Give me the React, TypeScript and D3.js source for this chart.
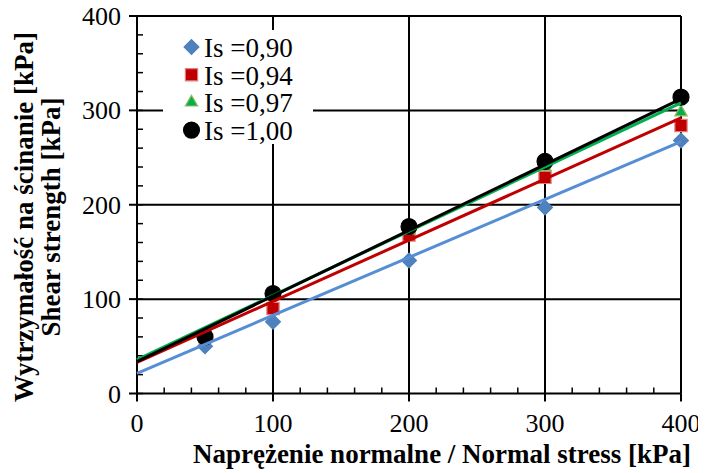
import React, { useEffect, useRef } from "react";
import * as d3 from "d3";

// normal stress values [kPa]
const stress = [50, 100, 200, 300, 400];

const seriesNames = ["Is =0,90", "Is =0,94", "Is =0,97", "Is =1,00"];

// shear strength [kPa]
const is090 = [50, 76, 141, 197, 268];
const is094 = [60, 90, 168, 229, 284];
const is097 = [62, 104, 173, 240, 298];
const is100 = [60, 106, 177, 246, 314];

// linear trend lines: intercept and slope
const fitIntercept = [21.4, 33, 36, 33.7];
const fitSlope = [0.614, 0.6475, 0.68, 0.696];

const xTicks = [0, 100, 200, 300, 400];
const yTicks = [0, 100, 200, 300, 400];

const App = () => {
	const svgRef = useRef<SVGSVGElement>(null);

	useEffect(() => {
		const svg = d3.select(svgRef.current);
		svg.selectAll("*").remove();

		const width = 706;
		const height = 473;
		const left = 137;
		const right = 681;
		const top = 16;
		const bottom = 393.5;
		const font = "'Liberation Serif', 'Times New Roman', serif";

		svg.attr("width", width).attr("height", height);

		const x = d3.scaleLinear().domain([0, 400]).range([left, right]);
		const y = d3.scaleLinear().domain([0, 400]).range([bottom, top]);

		const allValues = [is090, is094, is097, is100];
		const styles = [
			{ shape: d3.symbolDiamond2, fill: "#4f81bd", stroke: "#4f81bd", line: "#558ed5", size: 140 },
			{ shape: d3.symbolSquare2, fill: "#c00000", stroke: "#e0807a", line: "#c00000", size: 190 },
			{ shape: d3.symbolTriangle2, fill: "#00b050", stroke: "#9bbb59", line: "#00b050", size: 110 },
			{ shape: d3.symbolCircle, fill: "#000000", stroke: "#000000", line: "#000000", size: 200 },
		];

		// grid
		const grid = svg.append("g");
		yTicks.forEach((t) => {
			grid.append("line")
				.attr("x1", left).attr("x2", right)
				.attr("y1", y(t)).attr("y2", y(t))
				.attr("stroke", "#000").attr("stroke-width", 2);
		});
		xTicks.forEach((t) => {
			grid.append("line")
				.attr("x1", x(t)).attr("x2", x(t))
				.attr("y1", top).attr("y2", bottom)
				.attr("stroke", "#000").attr("stroke-width", 2);
		});

		// minor ticks (inside) and major ticks (outside)
		const minor = d3.range(0, 401, 20);
		minor.forEach((t) => {
			grid.append("line")
				.attr("x1", x(t)).attr("x2", x(t))
				.attr("y1", bottom).attr("y2", bottom - 6)
				.attr("stroke", "#000").attr("stroke-width", 1.5);
			grid.append("line")
				.attr("x1", left).attr("x2", left + 6)
				.attr("y1", y(t)).attr("y2", y(t))
				.attr("stroke", "#000").attr("stroke-width", 1.5);
		});
		xTicks.forEach((t) => {
			grid.append("line")
				.attr("x1", x(t)).attr("x2", x(t))
				.attr("y1", bottom).attr("y2", bottom + 8)
				.attr("stroke", "#000").attr("stroke-width", 2);
		});
		yTicks.forEach((t) => {
			grid.append("line")
				.attr("x1", left - 8).attr("x2", left)
				.attr("y1", y(t)).attr("y2", y(t))
				.attr("stroke", "#000").attr("stroke-width", 2);
		});

		// legend background
		svg.append("rect")
			.attr("x", 163).attr("y", 30)
			.attr("width", 150).attr("height", 114)
			.attr("fill", "#fff");

		// markers
		allValues.forEach((vals, i) => {
			const st = styles[i];
			svg.append("g")
				.selectAll("path")
				.data(vals)
				.enter()
				.append("path")
				.attr("transform", (d, j) => `translate(${x(stress[j])},${y(d)})`)
				.attr("d", d3.symbol().type(st.shape).size(st.size)())
				.attr("fill", st.fill)
				.attr("stroke", st.stroke)
				.attr("stroke-width", 1.2);
		});

		// trend lines
		fitIntercept.forEach((b, i) => {
			const xs = [0, 400];
			svg.append("path")
				.attr(
					"d",
					d3
						.line<number>()
						.x((d) => x(d))
						.y((d) => y(b + fitSlope[i] * d))(xs)
				)
				.attr("fill", "none")
				.attr("stroke", styles[i].line)
				.attr("stroke-width", 3);
		});

		// legend
		const legend = svg.append("g");
		seriesNames.forEach((name, i) => {
			const ly = 47 + i * 27.7;
			const st = styles[i];
			legend.append("path")
				.attr("transform", `translate(191.5,${ly})`)
				.attr("d", d3.symbol().type(st.shape).size(st.size)())
				.attr("fill", st.fill)
				.attr("stroke", st.stroke)
				.attr("stroke-width", 1.2);
			legend.append("text")
				.attr("x", 204)
				.attr("y", ly + 10)
				.style("font-family", font)
				.style("font-size", "27px")
				.text(name);
		});

		// tick labels
		svg.append("g")
			.selectAll("text")
			.data(xTicks)
			.enter()
			.append("text")
			.attr("x", (d) => x(d))
			.attr("y", 432)
			.attr("text-anchor", "middle")
			.style("font-family", font)
			.style("font-size", "26px")
			.text((d) => d);

		svg.append("g")
			.selectAll("text")
			.data(yTicks)
			.enter()
			.append("text")
			.attr("x", 121)
			.attr("y", (d) => y(d) + 9)
			.attr("text-anchor", "end")
			.style("font-family", font)
			.style("font-size", "26px")
			.text((d) => d);

		// axis titles
		svg.append("text")
			.attr("x", 442)
			.attr("y", 463)
			.attr("text-anchor", "middle")
			.style("font-family", font)
			.style("font-size", "27px")
			.style("font-weight", "700")
			.text("Naprężenie normalne / Normal stress [kPa]");

		const yt = svg.append("text")
			.attr("transform", "translate(0,217) rotate(-90)")
			.attr("text-anchor", "middle")
			.style("font-family", font)
			.style("font-size", "27px")
			.style("font-weight", "700");
		yt.append("tspan").attr("x", 0).attr("y", 33).text("Wytrzymałość na ścinanie [kPa]");
		yt.append("tspan").attr("x", 0).attr("y", 60).text("Shear strength [kPa]");
	}, []);

	return (
		<div style={{ margin: "-8px" }}>
			<svg ref={svgRef}></svg>
		</div>
	);
};

export default App;
